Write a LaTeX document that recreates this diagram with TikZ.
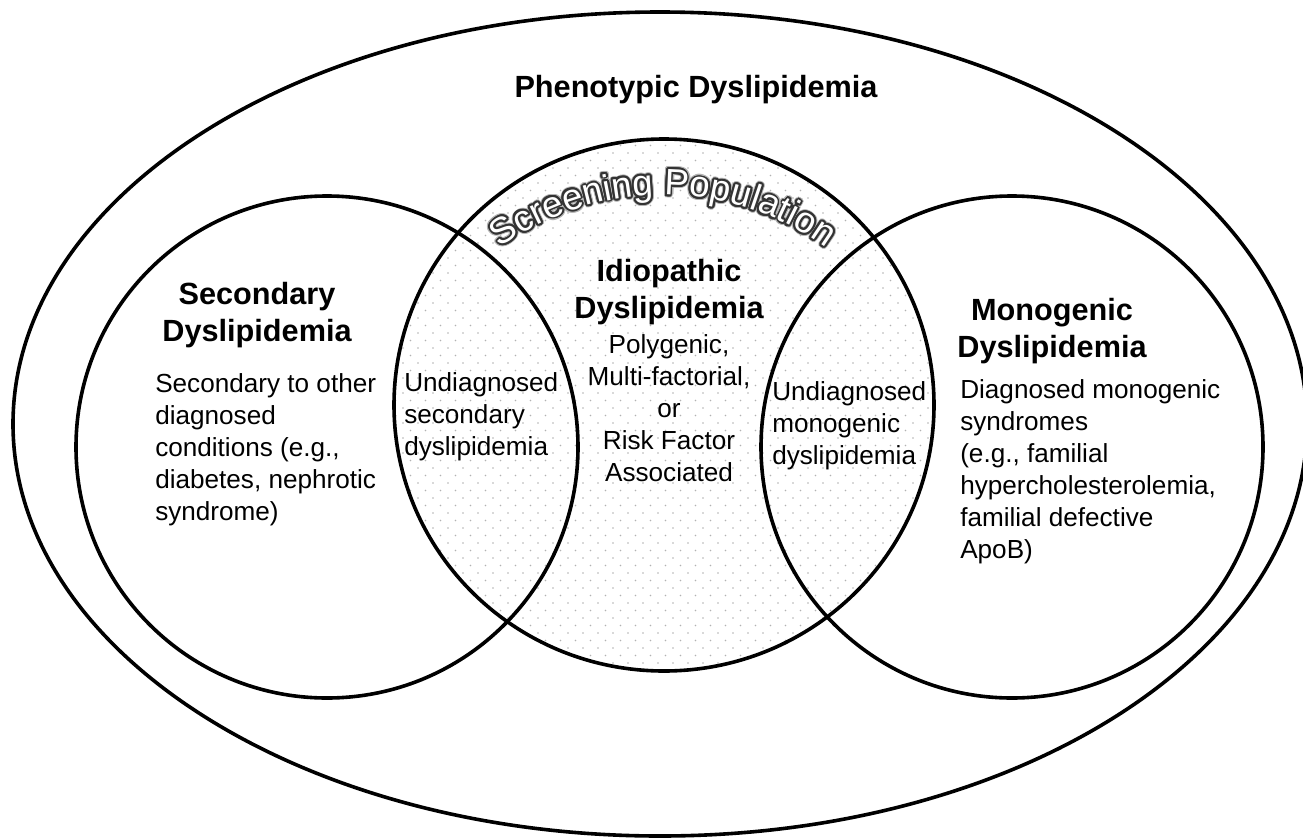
\documentclass[tikz,border=0pt]{standalone}
\usepackage{fontspec}
\setmainfont{Liberation Sans}
\usetikzlibrary{decorations.text}
\newcommand{\scrfont}{\fontsize{27.5}{30}\selectfont}
\begin{document}
\begin{tikzpicture}[x=0.75pt, y=-0.75pt,
		ring/.style={line width=2.7pt},
		head/.style={font=\bfseries\fontsize{23}{27.5}\selectfont, align=center},
		body/.style={font=\fontsize{19.6}{24}\selectfont, inner sep=0pt},
		screen/.style={decorate, decoration={text along path, text align=center, text={|\scrfont\color{#1}|Screening Population}}}]
		\useasboundingbox (0,0) rectangle (1303,839);
		\begin{scope}
			\clip (664,405) ellipse (270 and 266);
			\foreach \j in {0,...,72} {
				\foreach \i in {0,...,37} {
					\fill[black!30] ({388+15*\i+7.5*mod(\j,2)},{138+7.5*\j}) circle (0.9);
				}
			}
		\end{scope}
		\draw[ring] (660,424) ellipse (647 and 412);
		\draw[ring] (327,447) circle (251);
		\draw[ring] (664,405) ellipse (270 and 266);
		\draw[ring] (1012,447) circle (251);
		\foreach \a in {0,22.5,...,337.5} {
			\path[screen=black!30, shift={(\a:3)}] ([shift={(-145:278)}]663,473) arc[start angle=-145, end angle=-35, radius=278];
		}
		\foreach \a in {0,22.5,...,337.5} {
			\path[screen=black!80, shift={(\a:1.9)}] ([shift={(-145:278)}]663,473) arc[start angle=-145, end angle=-35, radius=278];
		}
		\path[screen=white] ([shift={(-145:278)}]663,473) arc[start angle=-145, end angle=-35, radius=278];
		\node[head] (phen) at (696,90) {Phenotypic Dyslipidemia};
		\node[head] (sechead) at (257,315) {Secondary\\Dyslipidemia};
		\node[body, align=left, anchor=north west] (secbody) at (155,373) {Secondary to other\\diagnosed\\conditions (e.g.,\\diabetes, nephrotic\\syndrome)};
		\node[body, align=left, anchor=north west] (undsec) at (404,372) {Undiagnosed\\secondary\\dyslipidemia};
		\node[head] (idiohead) at (669,292) {Idiopathic\\Dyslipidemia};
		\node[body, align=center, anchor=north] (idiobody) at (669,334) {Polygenic,\\Multi-factorial,\\or\\Risk Factor\\Associated};
		\node[body, align=left, anchor=north west] (undmono) at (772,381) {Undiagnosed\\monogenic\\dyslipidemia};
		\node[head] (monohead) at (1052,331) {Monogenic\\Dyslipidemia};
		\node[body, align=left, anchor=north west] (monobody) at (960,379) {Diagnosed monogenic\\syndromes\\(e.g., familial\\hypercholesterolemia,\\familial defective\\ApoB)};
\end{tikzpicture}
\end{document}
